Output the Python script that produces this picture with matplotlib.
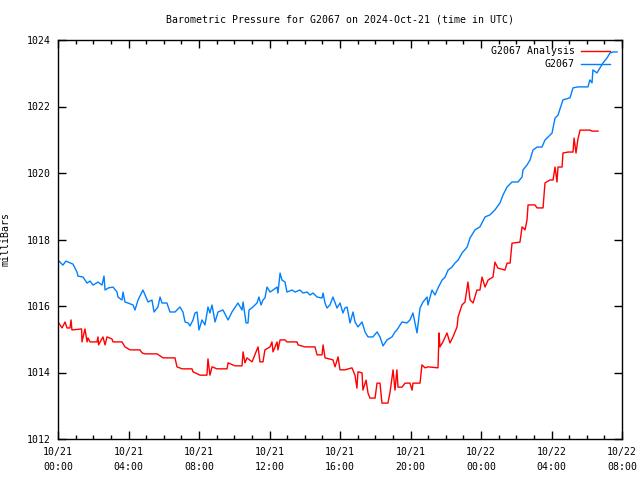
import numpy as np
import matplotlib
matplotlib.use("Agg")
import matplotlib.pyplot as plt
from datetime import datetime, timedelta

# hours after 2024-10-21 00:00 UTC, pressure in mBar
obs_hours = [0.00, 0.28, 0.45, 0.85, 1.08, 1.13, 1.42, 1.65, 1.82, 1.99, 2.27, 2.50, 2.61, 2.67,
             2.84, 3.12, 3.35, 3.40, 3.63, 3.69, 3.80, 3.97, 4.26, 4.37, 4.54, 4.82, 5.11, 5.33,
             5.45, 5.67, 5.79, 5.90, 6.18, 6.35, 6.64, 6.92, 7.09, 7.21, 7.38, 7.49, 7.66, 7.77,
             7.89, 8.00, 8.17, 8.34, 8.51, 8.62, 8.74, 8.91, 9.08, 9.36, 9.65, 9.87, 10.21, 10.44,
             10.50, 10.67, 10.78, 10.84, 11.06, 11.29, 11.40, 11.52, 11.63, 11.74, 11.86, 12.03,
             12.20, 12.43, 12.48, 12.60, 12.71, 12.88, 12.99, 13.28, 13.45, 13.73, 13.90, 14.13,
             14.30, 14.47, 14.70, 14.98, 15.04, 15.15, 15.26, 15.43, 15.60, 15.83, 16.00, 16.17,
             16.28, 16.40, 16.57, 16.74, 16.85, 17.02, 17.25, 17.42, 17.59, 17.87, 18.10, 18.27,
             18.44, 18.67, 18.95, 19.12, 19.23, 19.52, 19.80, 19.97, 20.14, 20.37, 20.54, 20.71,
             20.94, 20.99, 21.22, 21.39, 21.56, 21.79, 21.96, 22.13, 22.35, 22.52, 22.70, 22.92,
             23.21, 23.38, 23.66, 23.94, 24.23, 24.51, 24.79, 25.08, 25.25, 25.48, 25.76, 26.10,
             26.33, 26.38, 26.61, 26.78, 26.95, 27.18, 27.46, 27.63, 27.80, 28.03, 28.20, 28.37,
             28.60, 28.65, 29.05, 29.22, 29.50, 30.07, 30.18, 30.30, 30.35, 30.58, 30.75, 30.92,
             31.15, 31.32, 31.49, 31.72]
obs_mbar = [1017.38, 1017.23, 1017.35, 1017.26, 1017.02, 1016.90, 1016.87, 1016.69, 1016.75,
            1016.63, 1016.72, 1016.63, 1016.90, 1016.48, 1016.54, 1016.57, 1016.42, 1016.27,
            1016.18, 1016.42, 1016.12, 1016.09, 1016.03, 1015.88, 1016.18, 1016.48, 1016.12,
            1016.18, 1015.82, 1015.97, 1016.27, 1016.09, 1016.09, 1015.82, 1015.82, 1015.97,
            1015.82, 1015.52, 1015.49, 1015.40, 1015.58, 1015.79, 1015.82, 1015.28, 1015.58,
            1015.43, 1015.97, 1015.79, 1016.03, 1015.52, 1015.82, 1015.88, 1015.58, 1015.82,
            1016.09, 1015.88, 1016.12, 1015.49, 1015.49, 1015.88, 1015.97, 1016.09, 1016.27,
            1016.03, 1016.18, 1016.24, 1016.57, 1016.42, 1016.48, 1016.57, 1016.39, 1016.99,
            1016.78, 1016.72, 1016.42, 1016.48, 1016.42, 1016.48, 1016.39, 1016.42, 1016.33,
            1016.39, 1016.27, 1016.24, 1016.39, 1016.09, 1015.94, 1016.03, 1016.27, 1015.94,
            1016.09, 1015.79, 1015.94, 1015.97, 1015.49, 1015.82, 1015.52, 1015.37, 1015.52,
            1015.22, 1015.07, 1015.07, 1015.22, 1015.07, 1014.80, 1014.98, 1015.07, 1015.22,
            1015.28, 1015.52, 1015.49, 1015.58, 1015.79, 1015.19, 1015.94, 1016.12, 1016.27,
            1016.03, 1016.48, 1016.33, 1016.54, 1016.78, 1016.87, 1017.08, 1017.17, 1017.29,
            1017.38, 1017.59, 1017.77, 1018.05, 1018.29, 1018.38, 1018.68, 1018.74, 1018.89,
            1019.10, 1019.34, 1019.58, 1019.73, 1019.73, 1019.88, 1020.09, 1020.24, 1020.39,
            1020.69, 1020.78, 1020.78, 1020.99, 1021.08, 1021.20, 1021.65, 1021.74, 1022.11,
            1022.20, 1022.26, 1022.56, 1022.59, 1022.59, 1022.80, 1022.71, 1023.10, 1023.01,
            1023.16, 1023.31, 1023.46, 1023.61, 1023.64, 1023.64]

ana_hours = [0.00, 0.23, 0.40, 0.51, 0.68, 0.74, 0.79, 1.34, 1.36, 1.53, 1.65, 1.70, 1.82, 2.21,
             2.27, 2.30, 2.55, 2.67, 2.78, 3.06, 3.12, 3.63, 3.80, 4.09, 4.65, 4.77, 4.94, 5.62,
             5.96, 6.64, 6.75, 7.04, 7.60, 7.66, 8.06, 8.45, 8.51, 8.62, 8.74, 9.02, 9.59, 9.65,
             10.04, 10.44, 10.50, 10.61, 10.72, 11.01, 11.35, 11.46, 11.63, 11.74, 12.03, 12.14,
             12.20, 12.43, 12.48, 12.60, 12.88, 12.99, 13.56, 13.62, 14.01, 14.58, 14.70, 14.98,
             15.04, 15.15, 15.60, 15.72, 15.89, 16.00, 16.28, 16.68, 16.85, 16.96, 17.02, 17.25,
             17.30, 17.48, 17.59, 17.70, 17.99, 18.10, 18.27, 18.38, 18.72, 18.84, 19.01, 19.12,
             19.23, 19.29, 19.52, 19.69, 19.97, 20.09, 20.14, 20.54, 20.65, 20.82, 20.99, 21.56,
             21.62, 21.67, 21.84, 22.07, 22.24, 22.41, 22.64, 22.70, 22.92, 23.09, 23.26, 23.38,
             23.55, 23.77, 23.94, 24.06, 24.23, 24.40, 24.68, 24.79, 24.96, 25.36, 25.48, 25.65,
             25.76, 26.21, 26.33, 26.50, 26.61, 26.67, 27.06, 27.18, 27.52, 27.63, 27.91, 28.09,
             28.20, 28.31, 28.37, 28.60, 28.65, 28.94, 29.22, 29.28, 29.39, 29.50, 29.62, 30.18,
             30.30, 30.64]
ana_mbar = [1015.52, 1015.34, 1015.52, 1015.34, 1015.34, 1015.58, 1015.28, 1015.31, 1014.92,
            1015.31, 1014.92, 1015.04, 1014.92, 1014.92, 1015.07, 1014.83, 1015.07, 1014.83,
            1015.07, 1015.01, 1014.92, 1014.92, 1014.77, 1014.68, 1014.68, 1014.59, 1014.56,
            1014.56, 1014.44, 1014.44, 1014.17, 1014.11, 1014.11, 1014.02, 1013.92, 1013.92,
            1014.41, 1013.92, 1014.17, 1014.11, 1014.11, 1014.29, 1014.20, 1014.20, 1014.62,
            1014.29, 1014.44, 1014.32, 1014.77, 1014.32, 1014.32, 1014.68, 1014.77, 1014.92,
            1014.62, 1014.92, 1014.68, 1014.98, 1014.98, 1014.92, 1014.92, 1014.83, 1014.77,
            1014.77, 1014.53, 1014.53, 1014.83, 1014.44, 1014.38, 1014.17, 1014.47, 1014.08,
            1014.08, 1014.14, 1013.92, 1013.53, 1014.02, 1013.99, 1013.47, 1013.77, 1013.38,
            1013.23, 1013.23, 1013.68, 1013.68, 1013.08, 1013.08, 1013.41, 1014.08, 1013.47,
            1014.08, 1013.56, 1013.56, 1013.68, 1013.68, 1013.47, 1013.68, 1013.68, 1014.23,
            1014.14, 1014.17, 1014.14, 1015.19, 1014.77, 1014.92, 1015.19, 1014.89, 1015.07,
            1015.37, 1015.67, 1016.03, 1016.12, 1016.72, 1016.18, 1016.09, 1016.48, 1016.48,
            1016.87, 1016.57, 1016.78, 1016.87, 1017.32, 1017.14, 1017.08, 1017.29, 1017.29,
            1017.89, 1017.92, 1018.38, 1018.29, 1018.59, 1019.04, 1019.04, 1018.95, 1018.95,
            1019.70, 1019.79, 1019.79, 1020.18, 1019.73, 1020.18, 1020.18, 1020.60, 1020.63,
            1020.63, 1021.05, 1020.60, 1021.02, 1021.29, 1021.29, 1021.26, 1021.26]

start = datetime(2024, 10, 21, 0, 0)
tick_hours = list(range(0, 33, 4))
tick_labels = [(start + timedelta(hours=h)).strftime("%m/%d\n%H:%M") for h in tick_hours]

FONT = "DejaVu Sans Mono"
FS = 7.1
plt.rcParams["font.family"] = FONT
plt.rcParams["font.size"] = FS

fig = plt.figure(figsize=(6.4, 4.8), dpi=100)
ax = fig.add_axes([58 / 640, 1 - 439 / 480, 564 / 640, 399 / 480])

ax.plot(ana_hours, ana_mbar, color="#ff0000", lw=1.0, label="G2067 Analysis")
ax.plot(obs_hours, obs_mbar, color="#0080ff", lw=1.0, label="G2067")

ax.set_xlim(0, 32)
ax.set_ylim(1012, 1024)
ax.set_xticks(tick_hours)
ax.set_xticklabels(tick_labels, linespacing=1.6)
ax.set_xticks(range(0, 33), minor=True)
ax.set_yticks(range(1012, 1025, 2))
ax.tick_params(which="both", direction="in", top=True, right=True, width=1.0, labelsize=FS)
ax.tick_params(which="major", length=6, pad=5)
ax.tick_params(which="minor", length=3)
ax.tick_params(axis="x", which="major", pad=6)
for s in ax.spines.values():
    s.set_linewidth(1.0)

ax.set_ylabel("milliBars", fontsize=FS)
ax.yaxis.set_label_coords(-0.085, 0.5)
fig.text(340 / 640, 1 - 19 / 480, "Barometric Pressure for G2067 on 2024-Oct-21 (time in UTC)",
         ha="center", va="center", fontsize=FS)

ax.legend(loc="upper right", bbox_to_anchor=(0.979, 0.985), frameon=False, markerfirst=False,
          handlelength=3.0, handletextpad=0.6, borderaxespad=0, borderpad=0,
          labelspacing=0.35, fontsize=FS)

fig.savefig("out.png", dpi=100)
